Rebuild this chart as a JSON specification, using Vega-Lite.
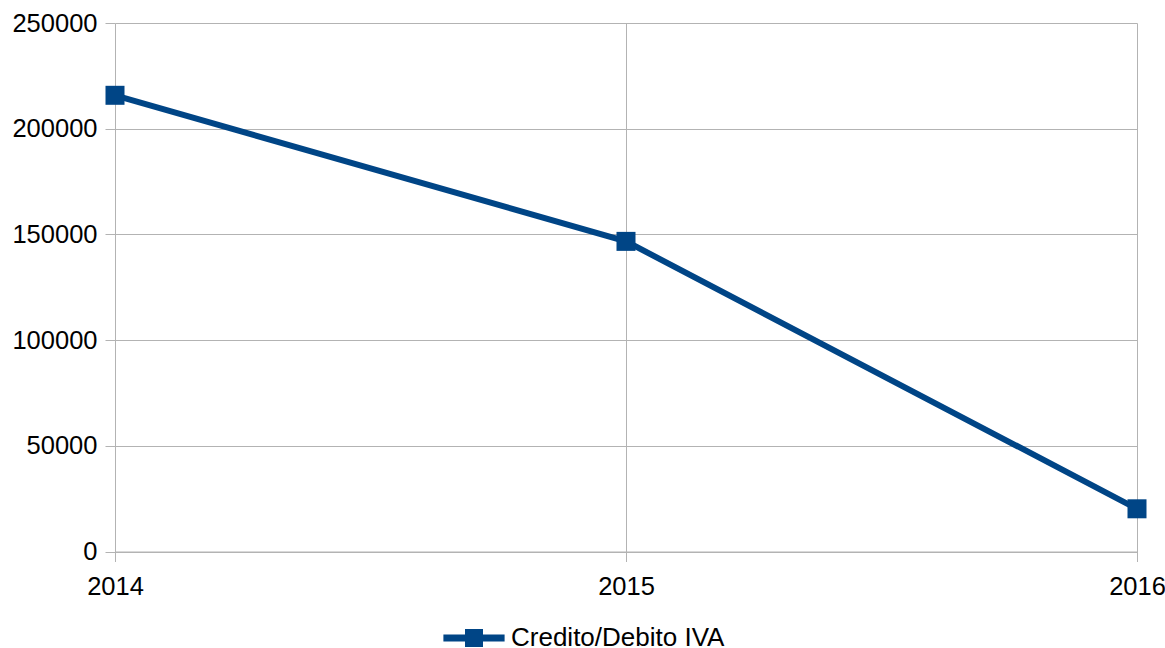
{
  "$schema": "https://vega.github.io/schema/vega-lite/v6.json",
  "autosize": "none",
  "width": 1022,
  "height": 528.5,
  "padding": {"left": 115, "top": 23, "right": 28, "bottom": 96.5},
  "background": "white",
  "config": {
    "view": {"stroke": null},
    "font": "Liberation Sans",
    "axis": {
      "labelFont": "Liberation Sans",
      "labelFontSize": 25.5,
      "labelColor": "#000000",
      "gridColor": "#b3b3b3",
      "domainColor": "#b3b3b3",
      "tickColor": "#b3b3b3",
      "tickSize": 10,
      "title": null
    }
  },
  "data": {
    "values": [
      {"year": "2014", "value": 215800, "series": "Credito/Debito IVA"},
      {"year": "2015", "value": 146700, "series": "Credito/Debito IVA"},
      {"year": "2016", "value": 20200, "series": "Credito/Debito IVA"}
    ]
  },
  "encoding": {
    "x": {
      "field": "year",
      "type": "ordinal",
      "scale": {"type": "point", "padding": 0},
      "axis": {"labelAngle": 0, "grid": true, "labelPadding": 13, "domain": true}
    },
    "y": {
      "field": "value",
      "type": "quantitative",
      "scale": {"domain": [0, 250000], "nice": false},
      "axis": {"values": [0, 50000, 100000, 150000, 200000, 250000], "grid": true, "labelPadding": 8, "domain": false, "format": "d"}
    }
  },
  "layer": [
    {
      "mark": {"type": "line", "color": "#004586", "strokeWidth": 6},
      "encoding": {}
    },
    {
      "mark": {"type": "point", "shape": "square", "filled": true, "size": 361, "opacity": 1},
      "encoding": {
        "color": {
          "field": "series",
          "type": "nominal",
          "scale": {"range": ["#004586"]},
          "legend": {
            "title": null,
            "orient": "none",
            "legendX": 346,
            "legendY": 602,
            "padding": 0,
            "symbolType": "M-3.4,-0.4H3.4V0.4H-3.4Z M-1,-1H1V1H-1Z",
            "symbolSize": 324,
            "symbolFillColor": "#004586",
            "symbolStrokeWidth": 0,
            "symbolOpacity": 1,
            "labelFont": "Liberation Sans",
            "labelFontSize": 26,
            "labelColor": "#000000",
            "labelOffset": 24,
            "labelLimit": 500
          }
        }
      }
    }
  ]
}
